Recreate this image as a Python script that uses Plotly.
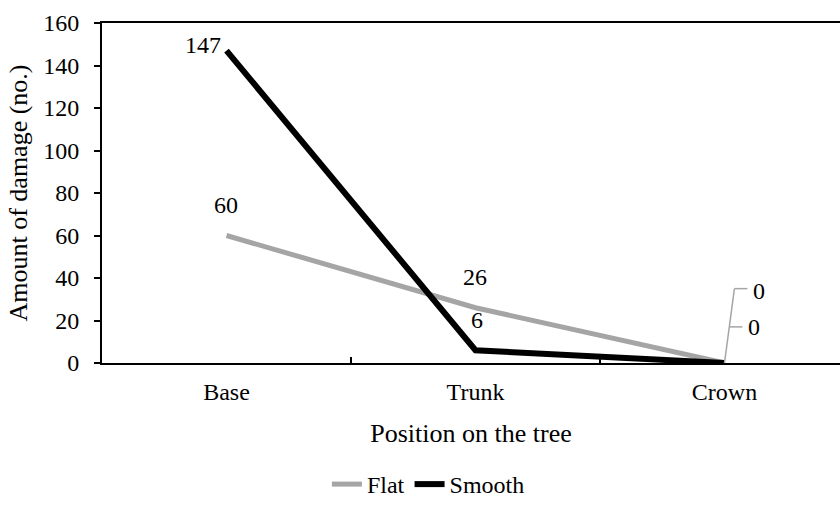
import plotly.graph_objects as go

categories = ["Base", "Trunk", "Crown"]
flat = [60, 26, 0]
smooth = [147, 6, 0]
y_ticks = [0, 20, 40, 60, 80, 100, 120, 140, 160]

FONT = "Liberation Serif, Times New Roman, serif"
GRAY = "#A5A5A5"
FS = 24

fig = go.Figure()
xi = list(range(len(categories)))

fig.add_trace(go.Scatter(
    x=xi, y=flat, name="Flat", mode="lines",
    line=dict(color=GRAY, width=5),
))
fig.add_trace(go.Scatter(
    x=xi, y=smooth, name="Smooth", mode="lines",
    line=dict(color="black", width=6),
))

annotations = []
annotations.append(dict(x=xi[0], y=smooth[0], text=str(smooth[0]), showarrow=False,
                        xanchor="right", yanchor="middle", xshift=-3, yshift=6))
annotations.append(dict(x=xi[0], y=flat[0], text=str(flat[0]), showarrow=False,
                        yanchor="middle", yshift=31))
annotations.append(dict(x=xi[1], y=flat[1], text=str(flat[1]), showarrow=False,
                        yanchor="middle", yshift=31))
annotations.append(dict(x=xi[1], y=smooth[1], text=str(smooth[1]), showarrow=False,
                        yanchor="middle", yshift=30, xshift=2))
c = xi[2]
annotations.append(dict(x=c + 0.14, y=flat[2] + 34, text=str(flat[2]), showarrow=False,
                        yanchor="middle"))
annotations.append(dict(x=c + 0.12, y=smooth[2] + 17, text=str(smooth[2]), showarrow=False,
                        yanchor="middle"))
for a in annotations:
    a["font"] = dict(family=FONT, size=FS, color="black")

shapes = [
    dict(type="line", xref="x", yref="y", x0=c, y0=flat[2], x1=c + 0.04, y1=flat[2] + 35,
         line=dict(color=GRAY, width=1.5)),
    dict(type="line", xref="x", yref="y", x0=c + 0.04, y0=flat[2] + 35, x1=c + 0.092, y1=flat[2] + 35,
         line=dict(color=GRAY, width=1.5)),
    dict(type="line", xref="x", yref="y", x0=c + 0.0195, y0=smooth[2] + 17, x1=c + 0.072, y1=smooth[2] + 17,
         line=dict(color=GRAY, width=1.5)),
]

fig.update_layout(
    width=840, height=507,
    margin=dict(l=102, r=0, t=23, b=144, autoexpand=False),
    paper_bgcolor="white", plot_bgcolor="white",
    font=dict(family=FONT, size=FS, color="black"),
    showlegend=True,
    legend=dict(orientation="h", xref="container", x=0.51, xanchor="center",
                yref="container", y=0.0, yanchor="bottom", font=dict(size=FS),
                tracegroupgap=0, itemwidth=30),
    annotations=annotations,
    shapes=shapes,
)
fig.update_xaxes(
    range=[-0.5, 2.464], tickmode="array", tickvals=xi, ticktext=categories,
    showline=True, linecolor="black", linewidth=2, mirror=True,
    ticks="", showgrid=False, zeroline=False, ticklabelstandoff=6,
    title=dict(text="Position on the tree", font=dict(size=26), standoff=20),
    tickfont=dict(size=FS),
)
fig.update_xaxes(minor=dict(tickmode="array", tickvals=[0.5, 1.5], ticks="inside",
                            ticklen=6, tickcolor="black", tickwidth=1.5, showgrid=False))
fig.update_yaxes(
    range=[0, 160], tickmode="array", tickvals=y_ticks,
    showline=True, linecolor="black", linewidth=2,
    ticks="outside", ticklen=6, tickcolor="black", tickwidth=1.5,
    showgrid=False, zeroline=False, ticklabelstandoff=10,
    title=dict(text="Amount of damage (no.)", font=dict(size=26), standoff=8),
    tickfont=dict(size=FS),
)

fig.write_html("out.html", config={"displayModeBar": False},
               post_script="document.body.style.margin='0';")
